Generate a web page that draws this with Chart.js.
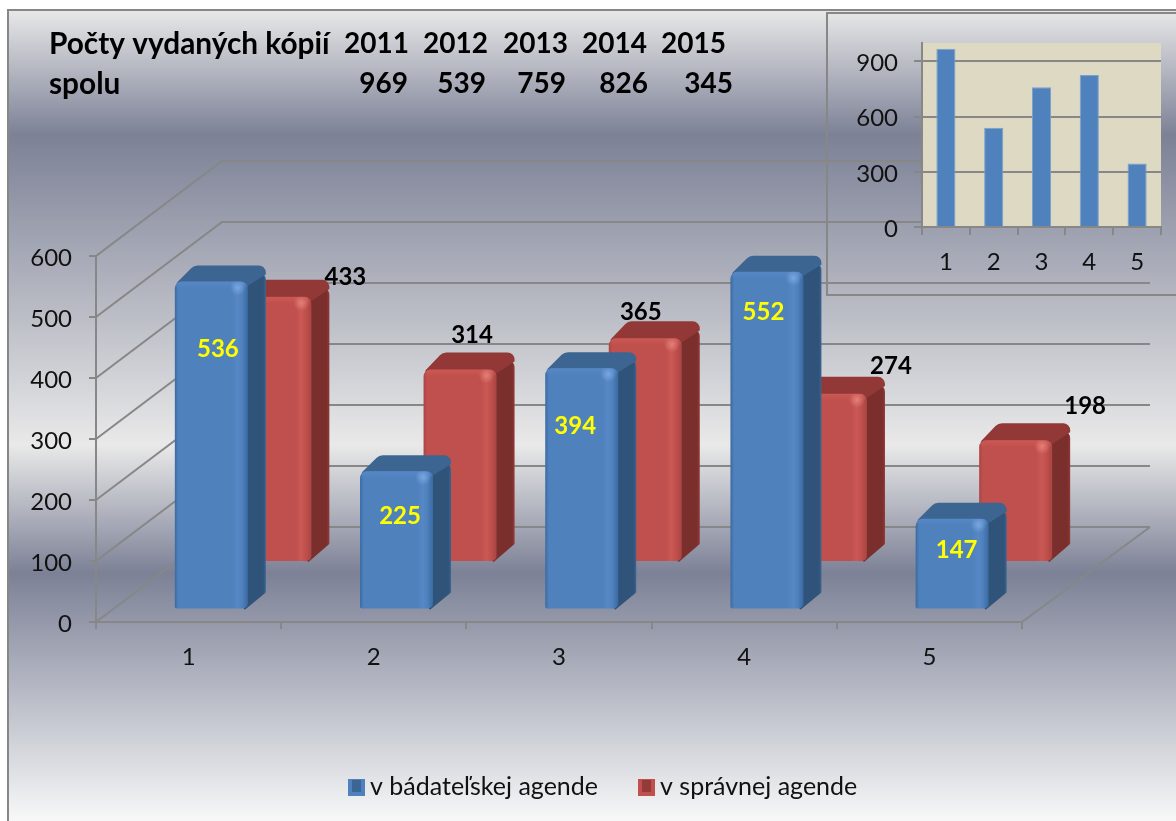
<!DOCTYPE html>
<html lang="sk">
<head>
<meta charset="utf-8">
<title>Počty vydaných kópií</title>
<script src="https://cdn.jsdelivr.net/npm/chart.js@4"></script>
<style>
html,body{margin:0;padding:0;background:#fff;width:1176px;height:821px;overflow:hidden}
canvas{position:absolute;display:block}
#main{left:0;top:0}
#inset{left:826px;top:12px}
</style>
</head>
<body>
<canvas id="main" width="1176" height="821"></canvas>
<canvas id="inset" width="350" height="285"></canvas>
<script>
const categories = ['1', '2', '3', '4', '5'];
const researchLabel = 'v bádateľskej agende';
const adminLabel = 'v správnej agende';
const researchCopies = [536, 225, 394, 552, 147];
const adminCopies = [433, 314, 365, 274, 198];
const yearLabels = ['2011', '2012', '2013', '2014', '2015'];
const yearTotals = [969, 539, 759, 826, 345];
const mainTicks = [0, 100, 200, 300, 400, 500, 600];
const insetTicks = [0, 300, 600, 900];

const FONT = 'Lato, Carlito, sans-serif';
const GRID = '#878787';
const DEPTH_X = 126, DEPTH_Y = 95;
const BOX = [
  {shiftX: 54.5, shiftY: -13.5, w: 73, dx: 18, dy: 16,
   l: '#3a6aa2', m: '#4f81bd', h: '#5788c6', spot: '#79a6e0', top: '#3c6592', side: '#2f5379'},
  {shiftX: 54.5, shiftY: -61, w: 73, dx: 18, dy: 17,
   l: '#a84543', m: '#c0504d', h: '#cb5854', spot: '#e47f78', top: '#923836', side: '#7b2f2d'}
];
const TITLE_NUDGE = {x: [344, 423, 503, 582, 661], v: [408, 486, 566, 648, 733]};
const BLUE_LABEL_NUDGE = [[6.5, 68], [3.5, 45], [-6.5, 58], [-3.5, 40], [4.5, 31]];
const RED_LABEL_NUDGE = [[70.5, -20], [12, -34], [-4.5, -26], [60.5, -28], [69.5, -34]];

// Chart.js centres tick text on the tick; the reference sits slightly lower.
function nudgeLabels(scale, dy) {
  if (scale.__nudged) return;
  scale.__nudged = true;
  const orig = scale._computeLabelItems;
  scale._computeLabelItems = function (ca) {
    const items = orig.call(this, ca);
    items.forEach(it => { it.options.translation[1] += dy; });
    return items;
  };
}

function rounded(ctx, pts, r) {
  ctx.beginPath();
  const n = pts.length;
  ctx.moveTo((pts[n-1][0]+pts[0][0])/2, (pts[n-1][1]+pts[0][1])/2);
  for (let i = 0; i < n; i++) {
    const a = pts[i], b = pts[(i+1)%n], rr = Array.isArray(r) ? r[i] : r;
    ctx.arcTo(a[0], a[1], b[0], b[1], rr);
  }
  ctx.closePath();
}

function drawBox(ctx, el, s) {
  const cx = el.x + s.shiftX, top = el.y + s.shiftY, bot = el.base + s.shiftY + 1;
  const l = cx - s.w/2, r = cx + s.w/2, dx = s.dx, dy = s.dy;
  // side
  const sg = ctx.createLinearGradient(r, 0, r+dx, 0);
  sg.addColorStop(0, s.side); sg.addColorStop(.85, s.side); sg.addColorStop(1, s.top);
  ctx.fillStyle = sg;
  rounded(ctx, [[r-4,top+1],[r+dx,top-dy],[r+dx,bot-dy],[r-4,bot+2]], [1,7,1,1]);
  ctx.fill();
  // top
  ctx.fillStyle = s.top;
  rounded(ctx, [[l,top+3],[l+dx+1,top-dy],[r+dx,top-dy],[r+dx,top-dy+9],[r-3,top+6]], [1.5,9,7,1,1]);
  ctx.fill();
  // front
  const fg = ctx.createLinearGradient(l, 0, r, 0);
  fg.addColorStop(0, s.l); fg.addColorStop(.05, s.m); fg.addColorStop(.78, s.m);
  fg.addColorStop(.86, s.h); fg.addColorStop(.92, s.m); fg.addColorStop(1, s.l);
  ctx.fillStyle = fg;
  rounded(ctx, [[l,top],[r,top],[r,bot],[l,bot]], [7,7,5,2]);
  ctx.fill();
  // bevel highlight
  ctx.save();
  rounded(ctx, [[l,top],[r,top],[r,bot],[l,bot]], [7,7,5,2]);
  ctx.clip();
  const tg = ctx.createLinearGradient(0, top, 0, top+7);
  tg.addColorStop(0, s.h); tg.addColorStop(1, s.h + '00');
  ctx.fillStyle = tg;
  ctx.fillRect(l, top, s.w, 7);
  const spot = ctx.createRadialGradient(r-10, top+6, 0, r-10, top+6, 8);
  spot.addColorStop(0, s.spot); spot.addColorStop(1, s.spot + '00');
  ctx.fillStyle = spot;
  ctx.fillRect(r-20, top, 20, 16);
  ctx.restore();
}

const scene = {
  id: 'scene',
  beforeDraw(chart) {
    const {ctx} = chart;
    ctx.save();
    const g = ctx.createLinearGradient(0, 10, 0, 821);
    const stop = y => (y - 10) / 811;
    g.addColorStop(0, '#e8e8e8');
    g.addColorStop(stop(135), '#7c8196');
    g.addColorStop(stop(445), '#e9e9e9');
    g.addColorStop(stop(573), '#7c8196');
    g.addColorStop(1, '#f8f8f8');
    ctx.fillStyle = g;
    ctx.fillRect(8, 10, 1168, 811);
    ctx.strokeStyle = '#878787';
    ctx.lineWidth = 2;
    ctx.beginPath();
    ctx.moveTo(1176, 10); ctx.lineTo(8, 10); ctx.lineTo(8, 821);
    ctx.stroke();
    ctx.restore();
  },
  beforeDatasetsDraw(chart) {
    const {ctx, chartArea: a, scales: {y}} = chart;
    ctx.save();
    ctx.strokeStyle = GRID;
    ctx.lineWidth = 2;
    mainTicks.forEach(v => {
      const p = y.getPixelForValue(v);
      ctx.beginPath();
      ctx.moveTo(a.left, p);
      ctx.lineTo(a.left + DEPTH_X, p - DEPTH_Y);
      ctx.lineTo(a.right + DEPTH_X + 2, p - DEPTH_Y);
      ctx.stroke();
    });
    const p0 = y.getPixelForValue(0);
    ctx.beginPath();
    ctx.moveTo(a.right, p0);
    ctx.lineTo(a.right + DEPTH_X + 2, p0 - DEPTH_Y);
    ctx.stroke();
    ctx.restore();
  },
  beforeDatasetDraw(chart, args) {
    const {ctx} = chart;
    const s = BOX[args.index];
    args.meta.data.forEach(el => drawBox(ctx, el, s));
    return false;
  },
  afterDatasetsDraw(chart) {
    const {ctx} = chart;
    const m0 = chart.getDatasetMeta(0).data, m1 = chart.getDatasetMeta(1).data;
    ctx.save();
    ctx.textBaseline = 'middle';
    ctx.textAlign = 'center';
    ctx.font = 'bold 24px ' + FONT;
    ctx.fillStyle = '#ffff00';
    researchCopies.forEach((v, i) => {
      const el = m0[i], n = BLUE_LABEL_NUDGE[i];
      ctx.fillText(String(v), el.x + BOX[0].shiftX + n[0], el.y + BOX[0].shiftY + n[1]);
    });
    ctx.fillStyle = '#000';
    adminCopies.forEach((v, i) => {
      const el = m1[i], n = RED_LABEL_NUDGE[i];
      ctx.fillText(String(v), el.x + BOX[1].shiftX + n[0], el.y + BOX[1].shiftY + n[1]);
    });
    // header table
    ctx.font = 'bold 29.8px ' + FONT;
    ctx.textAlign = 'left';
    ctx.fillText('Počty vydaných kópií', 49, 44);
    ctx.fillText('spolu', 49, 84);
    ctx.font = 'bold 28px ' + FONT;
    yearLabels.forEach((t, i) => ctx.fillText(t, TITLE_NUDGE.x[i], 44));
    ctx.textAlign = 'right';
    yearTotals.forEach((v, i) => ctx.fillText(String(v), TITLE_NUDGE.v[i], 84));
    // legend
    const key = (x, y, c, d) => {
      ctx.fillStyle = c; ctx.fillRect(x, y, 17, 17);
      ctx.fillStyle = d; ctx.fillRect(x + 4, y + 1, 9, 12);
    };
    key(348, 779, '#4f81bd', '#3a6595');
    key(638, 779, '#c0504d', '#953a38');
    ctx.fillStyle = '#111';
    ctx.textAlign = 'left';
    ctx.font = '25px ' + FONT;
    ctx.fillText(researchLabel, 370, 787);
    ctx.fillText(adminLabel, 660, 787);
    ctx.restore();
  }
};

new Chart(document.getElementById('main'), {
  type: 'bar',
  data: {
    labels: categories,
    datasets: [
      {label: researchLabel, data: researchCopies, backgroundColor: '#4f81bd'},
      {label: adminLabel, data: adminCopies, backgroundColor: '#c0504d'}
    ]
  },
  options: {
    responsive: false,
    animation: false,
    events: [],
    categoryPercentage: 0.686,
    barPercentage: 1,
    layout: {autoPadding: false, padding: {left: 0, top: 256, right: 154, bottom: 0}},
    plugins: {legend: {display: false}, tooltip: {enabled: false}, title: {display: false}},
    scales: {
      x: {
        afterFit: s => { s.height = 199; },
        grid: {display: true, drawOnChartArea: false, drawTicks: true, tickLength: 7, color: GRID, lineWidth: 2},
        border: {display: true, color: GRID, width: 2},
        ticks: {color: '#111', font: {family: FONT, size: 24}, padding: 14, maxRotation: 0}
      },
      y: {
        min: 0, max: 600,
        afterFit: s => { s.width = 96; nudgeLabels(s, 2); },
        afterBuildTicks: s => { s.ticks = mainTicks.map(value => ({value})); },
        grid: {display: true, drawOnChartArea: false, drawTicks: true, tickLength: 7, color: GRID, lineWidth: 2},
        border: {display: true, color: GRID, width: 2},
        ticks: {color: '#111', font: {family: FONT, size: 24}, padding: 17}
      }
    }
  },
  plugins: [scene]
});

const insetFrame = {
  id: 'insetFrame',
  beforeDraw(chart) {
    const {ctx, chartArea: a} = chart;
    ctx.save();
    ctx.strokeStyle = GRID; ctx.lineWidth = 2;
    ctx.beginPath();
    ctx.moveTo(350, 1); ctx.lineTo(1, 1); ctx.lineTo(1, 283); ctx.lineTo(350, 283);
    ctx.stroke();
    ctx.fillStyle = '#ddd9c3';
    ctx.fillRect(a.left, a.top, a.right - a.left, a.bottom - a.top);
    ctx.restore();
  }
};

new Chart(document.getElementById('inset'), {
  type: 'bar',
  data: {
    labels: categories,
    datasets: [{label: 'spolu', data: yearTotals, backgroundColor: '#4f81bd', borderColor: '#7ba0cd', borderWidth: 1}]
  },
  options: {
    responsive: false,
    animation: false,
    events: [],
    categoryPercentage: 0.4,
    barPercentage: 1,
    layout: {autoPadding: false, padding: {left: 0, top: 31, right: 15, bottom: 0}},
    plugins: {legend: {display: false}, tooltip: {enabled: false}},
    scales: {
      x: {
        afterFit: s => { s.height = 70; },
        grid: {display: true, drawOnChartArea: false, drawTicks: true, tickLength: 8, color: GRID, lineWidth: 2},
        border: {display: true, color: GRID, width: 2},
        ticks: {color: '#111', font: {family: FONT, size: 24}, padding: 13, maxRotation: 0}
      },
      y: {
        min: 0, max: 1000,
        afterFit: s => { s.width = 96; nudgeLabels(s, 2); },
        afterBuildTicks: s => { s.ticks = insetTicks.map(value => ({value})); },
        grid: {display: true, tickLength: 8, color: GRID, lineWidth: 2},
        border: {display: true, color: GRID, width: 2},
        ticks: {color: '#111', font: {family: FONT, size: 24}, padding: 16}
      }
    }
  },
  plugins: [insetFrame]
});
</script>
</body>
</html>
